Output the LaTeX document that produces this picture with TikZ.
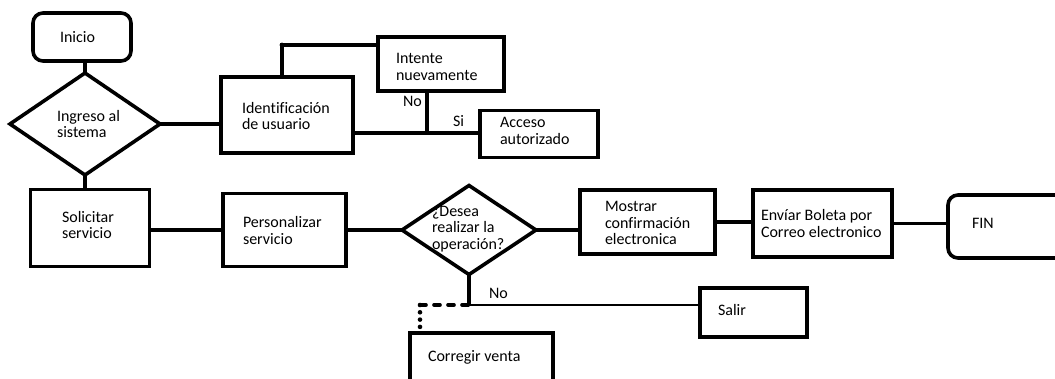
\documentclass[tikz,border=0pt]{standalone}
\usepackage{fontspec}
\setmainfont{Carlito}[Ligatures=NoCommon]
\usetikzlibrary{shapes.geometric}

\begin{document}
\begin{tikzpicture}[x=1pt,y=-1pt,
  every node/.style={inner sep=0pt, outer sep=0pt},
  line/.style={line width=3.6pt},
  box/.style={draw, line width=3.6pt, rectangle},
  term/.style={box, rounded corners=10pt},
  decision/.style={draw, line width=3.6pt, diamond},
  txt/.style={font=\fontsize{16}{16.3}\selectfont, align=left, anchor=west},
]
\clip (0,0) rectangle (1055,379);
\fill[white] (0,0) rectangle (1055,379);

% shapes
\node[term, minimum width=98pt, minimum height=48pt] (inicio) at (82,37) {};
\node[decision, minimum width=150pt, minimum height=102pt] (d1) at (85,124) {};
\node[box, minimum width=132pt, minimum height=76pt] (ident) at (287,115) {};
\node[box, minimum width=126pt, minimum height=54pt] (intente) at (441,64) {};
\node[box, minimum width=118pt, minimum height=47pt] (acceso) at (539,134) {};
\node[box, minimum width=119pt, minimum height=77pt] (solicitar) at (90,228) {};
\node[box, minimum width=123pt, minimum height=73pt] (personalizar) at (284.5,230) {};
\node[decision, minimum width=134pt, minimum height=89pt] (d2) at (469,230) {};
\node[box, minimum width=135pt, minimum height=64pt] (mostrar) at (647.5,222) {};
\node[box, minimum width=139pt, minimum height=67pt] (enviar) at (822.5,223.5) {};
\node[term, minimum width=160pt, minimum height=63pt, anchor=west] (fin) at (948,226.5) {};
\node[box, minimum width=107pt, minimum height=49pt] (salir) at (753.5,312.5) {};
\node[box, minimum width=143pt, minimum height=80pt, anchor=north west] (corregir) at (410,333) {};

% texts
\node[txt] (t-inicio) at (60,37) {Inicio};
\node[txt] (t-d1) at (57,124) {Ingreso al\\sistema};
\node[txt] (t-ident) at (242,116) {Identificación\\de usuario};
\node[txt] (t-intente) at (396,67) {Intente\\nuevamente};
\node[txt] (t-acceso) at (500,131) {Acceso\\autorizado};
\node[txt] (t-solicitar) at (62,225) {Solicitar\\servicio};
\node[txt] (t-personalizar) at (243,230.5) {Personalizar\\servicio};
\node[txt] (t-d2) at (432,229) {¿Desea\\realizar la\\operación?};
\node[txt] (t-mostrar) at (605,223) {Mostrar\\confirmación\\electronica};
\node[txt] (t-enviar) at (761,223.5) {Envíar Boleta por\\Correo electronico};
\node[txt] (t-fin) at (972,223) {FIN};
\node[txt] (t-salir) at (718,310) {Salir};
\node[txt] (t-corregir) at (428,357) {Corregir venta};
\node[txt] (l-no1) at (403,101) {No};
\node[txt] (l-si) at (453,121) {Si};
\node[txt] (l-no2) at (489,293) {No};

% connectors
\coordinate (c1) at (282,45);
\coordinate (j1) at (427,133);
\coordinate (j2) at (468,305);
\coordinate (c2) at (420,305);
\coordinate (c3) at (420,327);

\draw[line] (inicio.south -| d1.north) -- (d1.north);
\draw[line] (d1.east) -- (d1.east -| ident.west);
\draw[line] (ident.north -| c1) -- (c1) -- (c1 -| intente.west);
\fill (c1) circle (2.4pt);
\draw[line] (intente.south -| j1) -- (j1);
\draw[line] (ident.east |- j1) -- (j1 -| acceso.west);
\draw[line] (d1.south) -- (d1.south |- solicitar.north);
\draw[line] (solicitar.east |- personalizar.west) -- (personalizar.west);
\draw[line] (personalizar.east) -- (d2.west);
\draw[line] (d2.east) -- (d2.east -| mostrar.west);
\draw[line] (mostrar.east) -- (mostrar.east -| enviar.west);
\draw[line] (enviar.east) -- (enviar.east -| fin.west);
\draw[line] (d2.south) -- (d2.south |- j2);
\draw[line width=2.6pt] (j2) -- (j2 -| salir.west);
\fill (j2) circle (2pt);
\draw[line, line cap=round, dash pattern=on 6pt off 8pt] (j2) -- (c2);
\draw[line width=4.6pt, line cap=round, dash pattern=on 0pt off 7.3pt] (c2) -- (c3);
\end{tikzpicture}
\end{document}
